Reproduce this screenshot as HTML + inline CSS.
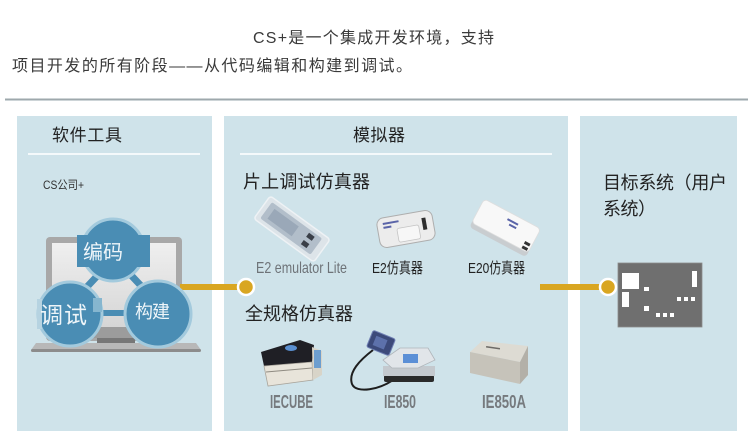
<!DOCTYPE html>
<html>
<head>
<meta charset="utf-8">
<style>
  html, body { margin:0; padding:0; background:#fff; }
  body { width:752px; height:440px; overflow:hidden; }
  svg { display:block; }
  text { font-family: "Liberation Sans", "Noto Sans CJK SC", sans-serif; }
</style>
</head>
<body>
<svg width="752" height="440" viewBox="0 0 752 440" xmlns="http://www.w3.org/2000/svg">
  <rect width="752" height="440" fill="#ffffff"/>

  <!-- Header text -->
  <text x="253" y="43" font-size="16" fill="#3a3a3a" textLength="241">CS+是一个集成开发环境，支持</text>
  <text x="12" y="71" font-size="16" fill="#3a3a3a" textLength="400">项目开发的所有阶段——从代码编辑和构建到调试。</text>

  <!-- separator -->
  <rect x="5" y="98.5" width="743" height="1.5" fill="#9ea8ac"/>
  <rect x="5" y="100" width="743" height="1" fill="#cdd4d7"/>

  <!-- Panels -->
  <rect x="17" y="116" width="195" height="315" fill="#cfe3ea"/>
  <rect x="224" y="116" width="344" height="315" fill="#cfe3ea"/>
  <rect x="580" y="116" width="157" height="315" fill="#cfe3ea"/>

  <!-- Panel 1 -->
  <text x="52" y="141" font-size="17" fill="#222" textLength="70">软件工具</text>
  <rect x="28" y="153" width="172" height="2" fill="#f4f9fb"/>
  <text x="43" y="189" font-size="12" fill="#333" textLength="41" lengthAdjust="spacingAndGlyphs">CS公司+</text>

  <!-- Laptop -->
  <rect x="46" y="237" width="136" height="104" rx="4" fill="#a8a8a8"/>
  <defs>
    <linearGradient id="scr" x1="0" y1="0" x2="0" y2="1">
      <stop offset="0" stop-color="#efefef"/>
      <stop offset="1" stop-color="#d6d6d6"/>
    </linearGradient>
  </defs>
  <rect x="52" y="243" width="124" height="84" fill="url(#scr)"/>
  <rect x="52" y="327" width="124" height="11" fill="#9c9c9c"/>
  <rect x="97" y="338" width="38" height="5" fill="#777"/>
  <polygon points="36,343 196,343 201,350 31,350" fill="#b8b8b8"/>
  <rect x="31" y="349" width="170" height="3" rx="1.5" fill="#8c8c8c"/>

  <!-- yellow connector 1 -->
  <rect x="180" y="284" width="66" height="6" fill="#d9a621"/>
  <circle cx="246" cy="287" r="8" fill="#d9a621" stroke="#ffffff" stroke-width="2.5"/>

  <!-- circle links -->
  <line x1="99" y1="274" x2="85" y2="289" stroke="#4a8db4" stroke-width="7"/>
  <line x1="129" y1="273" x2="144" y2="289" stroke="#4a8db4" stroke-width="7"/>
  <rect x="98" y="310" width="32" height="6" fill="#4a8db4"/>

  <!-- circles -->
  <circle cx="113" cy="250" r="31" fill="#4a8db4" stroke="#a3cadd" stroke-width="3"/>
  <rect x="77" y="235" width="73" height="32" fill="#4a8db4"/>
  <text x="83" y="259" font-size="20" fill="#eef5f9" textLength="40">编码</text>

  <circle cx="70" cy="314" r="32" fill="#4a8db4" stroke="#a3cadd" stroke-width="3"/>
  <rect x="37" y="299" width="5" height="30" fill="#b6d3e1"/>
  <rect x="93" y="298" width="9" height="14" fill="#86b6cf"/>
  <text x="40" y="323" font-size="23" fill="#eef5f9" textLength="47">调试</text>

  <circle cx="158" cy="314" r="33" fill="#4a8db4" stroke="#a3cadd" stroke-width="3"/>
  <text x="135" y="318" font-size="18" fill="#eef5f9" textLength="35">构建</text>

  <!-- Panel 2 -->
  <text x="353" y="141" font-size="17" fill="#222" textLength="52">模拟器</text>
  <rect x="240" y="153" width="312" height="2" fill="#f4f9fb"/>
  <text x="243" y="188" font-size="18" fill="#222" textLength="127">片上调试仿真器</text>

  <!-- E2 emulator Lite -->
  <g transform="translate(292,229) rotate(36)">
    <rect x="-37" y="-14" width="74" height="28" rx="3" fill="#dde4e9" stroke="#eef2f5" stroke-width="1.5"/>
    <rect x="-32" y="-10" width="62" height="20" rx="2" fill="#aab7c4" opacity="0.85"/>
    <rect x="-26" y="-6" width="30" height="12" fill="#93a2b3" opacity="0.8"/>
    <rect x="16" y="-7" width="7" height="5" fill="#3a3f48"/>
    <rect x="16" y="2" width="7" height="5" fill="#3a3f48"/>
  </g>
  <!-- E2 -->
  <g transform="translate(406,229) rotate(-10)">
    <rect x="-28" y="-15" width="56" height="30" rx="7" fill="#ececec" stroke="#aeaeae" stroke-width="1"/>
    <rect x="-9" y="-2" width="22" height="14" rx="2" fill="#f7f7f7" stroke="#c4c4c4" stroke-width="0.8"/>
    <rect x="17" y="-8" width="4" height="12" fill="#2e2e2e"/>
    <rect x="-22" y="-10" width="16" height="2" fill="#5a64a8"/>
    <rect x="-22" y="-6" width="8" height="2" fill="#5a64a8"/>
  </g>
  <!-- E20 -->
  <g transform="translate(505,228) rotate(28)">
    <rect x="-32" y="-12" width="64" height="28" rx="4" fill="#c9cdd0"/>
    <rect x="-32" y="-16" width="64" height="27" rx="4" fill="#f8f8f8" stroke="#dedede" stroke-width="0.8"/>
    <rect x="-2" y="-10" width="12" height="2" fill="#5a64a8"/>
    <rect x="2" y="-6" width="8" height="2" fill="#5a64a8"/>
    <rect x="24" y="2" width="6" height="3" fill="#333"/>
    <rect x="24" y="7" width="6" height="3" fill="#333"/>
  </g>

  <text x="256" y="273" font-size="16" fill="#6e7378" textLength="91" lengthAdjust="spacingAndGlyphs">E2 emulator Lite</text>
  <text x="372" y="273" font-size="15" fill="#222" textLength="51" lengthAdjust="spacingAndGlyphs">E2仿真器</text>
  <text x="468" y="273" font-size="15" fill="#222" textLength="57" lengthAdjust="spacingAndGlyphs">E20仿真器</text>

  <text x="245" y="320" font-size="18" fill="#222" textLength="108">全规格仿真器</text>

  <!-- IECUBE -->
  <polygon points="261,352 300,340 314,345 312,362 264,366" fill="#1f1f25"/>
  <ellipse cx="291" cy="348" rx="6" ry="3" fill="#5a8fd0"/>
  <polygon points="264,366 312,362 313,380 268,386" fill="#e8e4da" stroke="#a9a59c" stroke-width="0.8"/>
  <line x1="266" y1="372" x2="312" y2="368" stroke="#8f8b82" stroke-width="1"/>
  <polygon points="312,347 322,351 322,375 313,380" fill="#d8d4c8"/>
  <rect x="314" y="350" width="7" height="18" fill="#6d9ecf"/>

  <!-- IE850 -->
  <path d="M373,350 C360,360 348,372 352,384 C356,394 380,390 396,378" fill="none" stroke="#1e1e1e" stroke-width="2"/>
  <g transform="translate(381,343) rotate(22)">
    <rect x="-12" y="-9" width="24" height="18" rx="2" fill="#3c4a7a" stroke="#6f7fb3" stroke-width="1"/>
    <rect x="-7" y="-5" width="12" height="10" fill="#5d71ab"/>
  </g>
  <rect x="384" y="375" width="50" height="7" rx="2" fill="#2a2a2a"/>
  <rect x="383" y="366" width="52" height="10" fill="#c4c9ce"/>
  <polygon points="383,360 400,348 428,348 435,360 418,368 392,368" fill="#e1e5e9" stroke="#b0b5ba" stroke-width="0.8"/>
  <rect x="403" y="354" width="15" height="9" fill="#5b8fd6"/>

  <!-- IE850A -->
  <polygon points="470,352 482,341 528,346 520,362" fill="#dddbd3"/>
  <polygon points="470,352 520,362 520,384 470,373" fill="#c6c3ba"/>
  <polygon points="520,362 528,346 528,375 520,384" fill="#b3b0a8"/>
  <rect x="486" y="347" width="14" height="1.5" fill="#6d6a66" transform="rotate(8 493 348)"/>

  <text x="270" y="408" font-size="18" font-weight="bold" fill="#767a7e" textLength="43" lengthAdjust="spacingAndGlyphs">IECUBE</text>
  <text x="384" y="408" font-size="18" font-weight="bold" fill="#767a7e" textLength="32" lengthAdjust="spacingAndGlyphs">IE850</text>
  <text x="482" y="408" font-size="18" font-weight="bold" fill="#767a7e" textLength="44" lengthAdjust="spacingAndGlyphs">IE850A</text>

  <!-- yellow connector 2 -->
  <rect x="540" y="284" width="68" height="6" fill="#d9a621"/>
  <circle cx="608" cy="287" r="8" fill="#d9a621" stroke="#ffffff" stroke-width="2.5"/>

  <!-- Panel 3 -->
  <text x="603" y="189" font-size="18" fill="#222" textLength="124">目标系统（用户</text>
  <text x="603" y="215" font-size="18" fill="#222" textLength="53">系统）</text>

  <!-- board -->
  <rect x="618" y="263" width="84" height="64" fill="#6f6f6f" stroke="#8a8a8a" stroke-width="0.8"/>
  <g fill="#ffffff">
    <rect x="622" y="273" width="17" height="16"/>
    <rect x="622" y="292" width="7" height="15"/>
    <rect x="644" y="287" width="5" height="4"/>
    <rect x="644" y="306" width="5" height="5"/>
    <rect x="692" y="271" width="5" height="16"/>
    <rect x="677" y="297" width="4" height="4"/>
    <rect x="684" y="297" width="4" height="4"/>
    <rect x="691" y="297" width="4" height="4"/>
    <rect x="656" y="313" width="4" height="4"/>
    <rect x="663" y="313" width="4" height="4"/>
    <rect x="670" y="313" width="4" height="4"/>
  </g>
</svg>
</body>
</html>
